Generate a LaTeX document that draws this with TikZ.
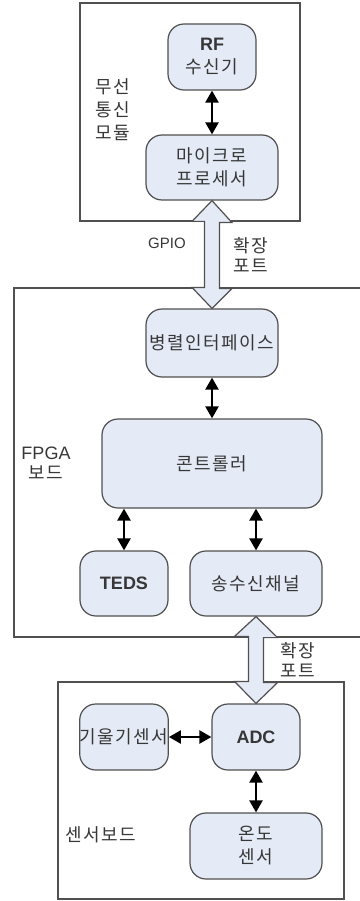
\documentclass[tikz,border=0pt]{standalone}
\usepackage{fontspec}
\setmainfont{Liberation Sans}
\newfontfamily\hangul[LetterSpace=8]{Noto Sans CJK KR}
\usetikzlibrary{arrows.meta}
\definecolor{boxfill}{RGB}{228,234,246}
\definecolor{edge}{RGB}{80,80,80}
\definecolor{txt}{RGB}{55,55,55}

\begin{document}
\begin{tikzpicture}[x=1pt,y=-1pt,
    blk/.style={draw=edge,fill=boxfill,line width=1.2pt,rounded corners=16pt,align=center,text=txt,inner sep=0pt,font=\hangul\fontsize{18}{23}\selectfont},
    frame/.style={draw=edge,line width=1.2pt},
    lbl/.style={align=center,text=txt,inner sep=0pt,font=\hangul\fontsize{18}{20}\selectfont},
    link/.style={line width=2.3pt,{Triangle[width=13pt,length=12pt]}-{Triangle[width=13pt,length=12pt]}},
    port/.style={draw=edge,fill=boxfill,line width=1.2pt,line join=miter}]
        \useasboundingbox (0,0) rectangle (359,901);
        \draw[frame] (80,3) rectangle (300,221);
        \draw[frame] (14,288) rectangle (370,637);
        \draw[frame] (58,682) rectangle (344,899);
        \node[blk,minimum width=88pt,minimum height=66pt] (rf) at (212,57) {{\rmfamily\bfseries RF}\\수신기};
        \node[blk,minimum width=132pt,minimum height=65pt] (mpu) at (212,167.5) {마이크로\\프로세서};
        \node[blk,minimum width=132pt,minimum height=68pt] (pif) at (212,343) {병렬인터페이스};
        \node[blk,minimum width=220pt,minimum height=89pt] (ctrl) at (212,463.5) {콘트롤러};
        \node[blk,minimum width=88pt,minimum height=65pt] (teds) at (124,583.5) {\rmfamily\bfseries TEDS};
        \node[blk,minimum width=132pt,minimum height=65pt] (trx) at (256,583.5) {송수신채널};
        \node[blk,minimum width=88pt,minimum height=66pt] (tilt) at (124,737) {기울기센서};
        \node[blk,minimum width=88pt,minimum height=66pt] (adc) at (256,737) {\rmfamily\bfseries ADC};
        \node[blk,minimum width=132pt,minimum height=66pt] (temp) at (256,846) {온도\\센서};
        \draw[link] (rf) -- (mpu);
        \draw[link] (pif) -- (ctrl);
        \draw[link] (ctrl.south -| teds) -- (teds);
        \draw[link] (ctrl.south -| trx) -- (trx);
        \draw[link] (tilt) -- (adc);
        \draw[link] (adc) -- (temp);
        \draw[port] (mpu.south) -- ++(20,22) -- ++(-12.5,0) -- ++(0,66) -- ++(12.5,0) -- (pif.north) -- ++(-20,-21) -- ++(12.5,0) -- ++(0,-66) -- ++(-12.5,0) -- cycle;
        \draw[port] (trx.south) -- ++(21.5,21) -- ++(-14,0) -- ++(0,45) -- ++(14,0) -- (adc.north) -- ++(-21.5,-22) -- ++(14,0) -- ++(0,-45) -- ++(-14,0) -- cycle;
        \node[lbl,font=\hangul\fontsize{18}{23}\selectfont] (radio) at (113,110) {무선\\통신\\모듈};
        \node[lbl,font=\rmfamily\fontsize{15}{18}\selectfont] (gpio) at (167,243) {GPIO};
        \node[lbl] (xport) at (251,255) {확장\\포트};
        \node[lbl] (fpga) at (46,463) {{\rmfamily FPGA}\\보드};
        \node[lbl] (xport2) at (298,660) {확장\\포트};
        \node[lbl] (sboard) at (101,835) {센서보드};
      \end{tikzpicture}
\end{document}
